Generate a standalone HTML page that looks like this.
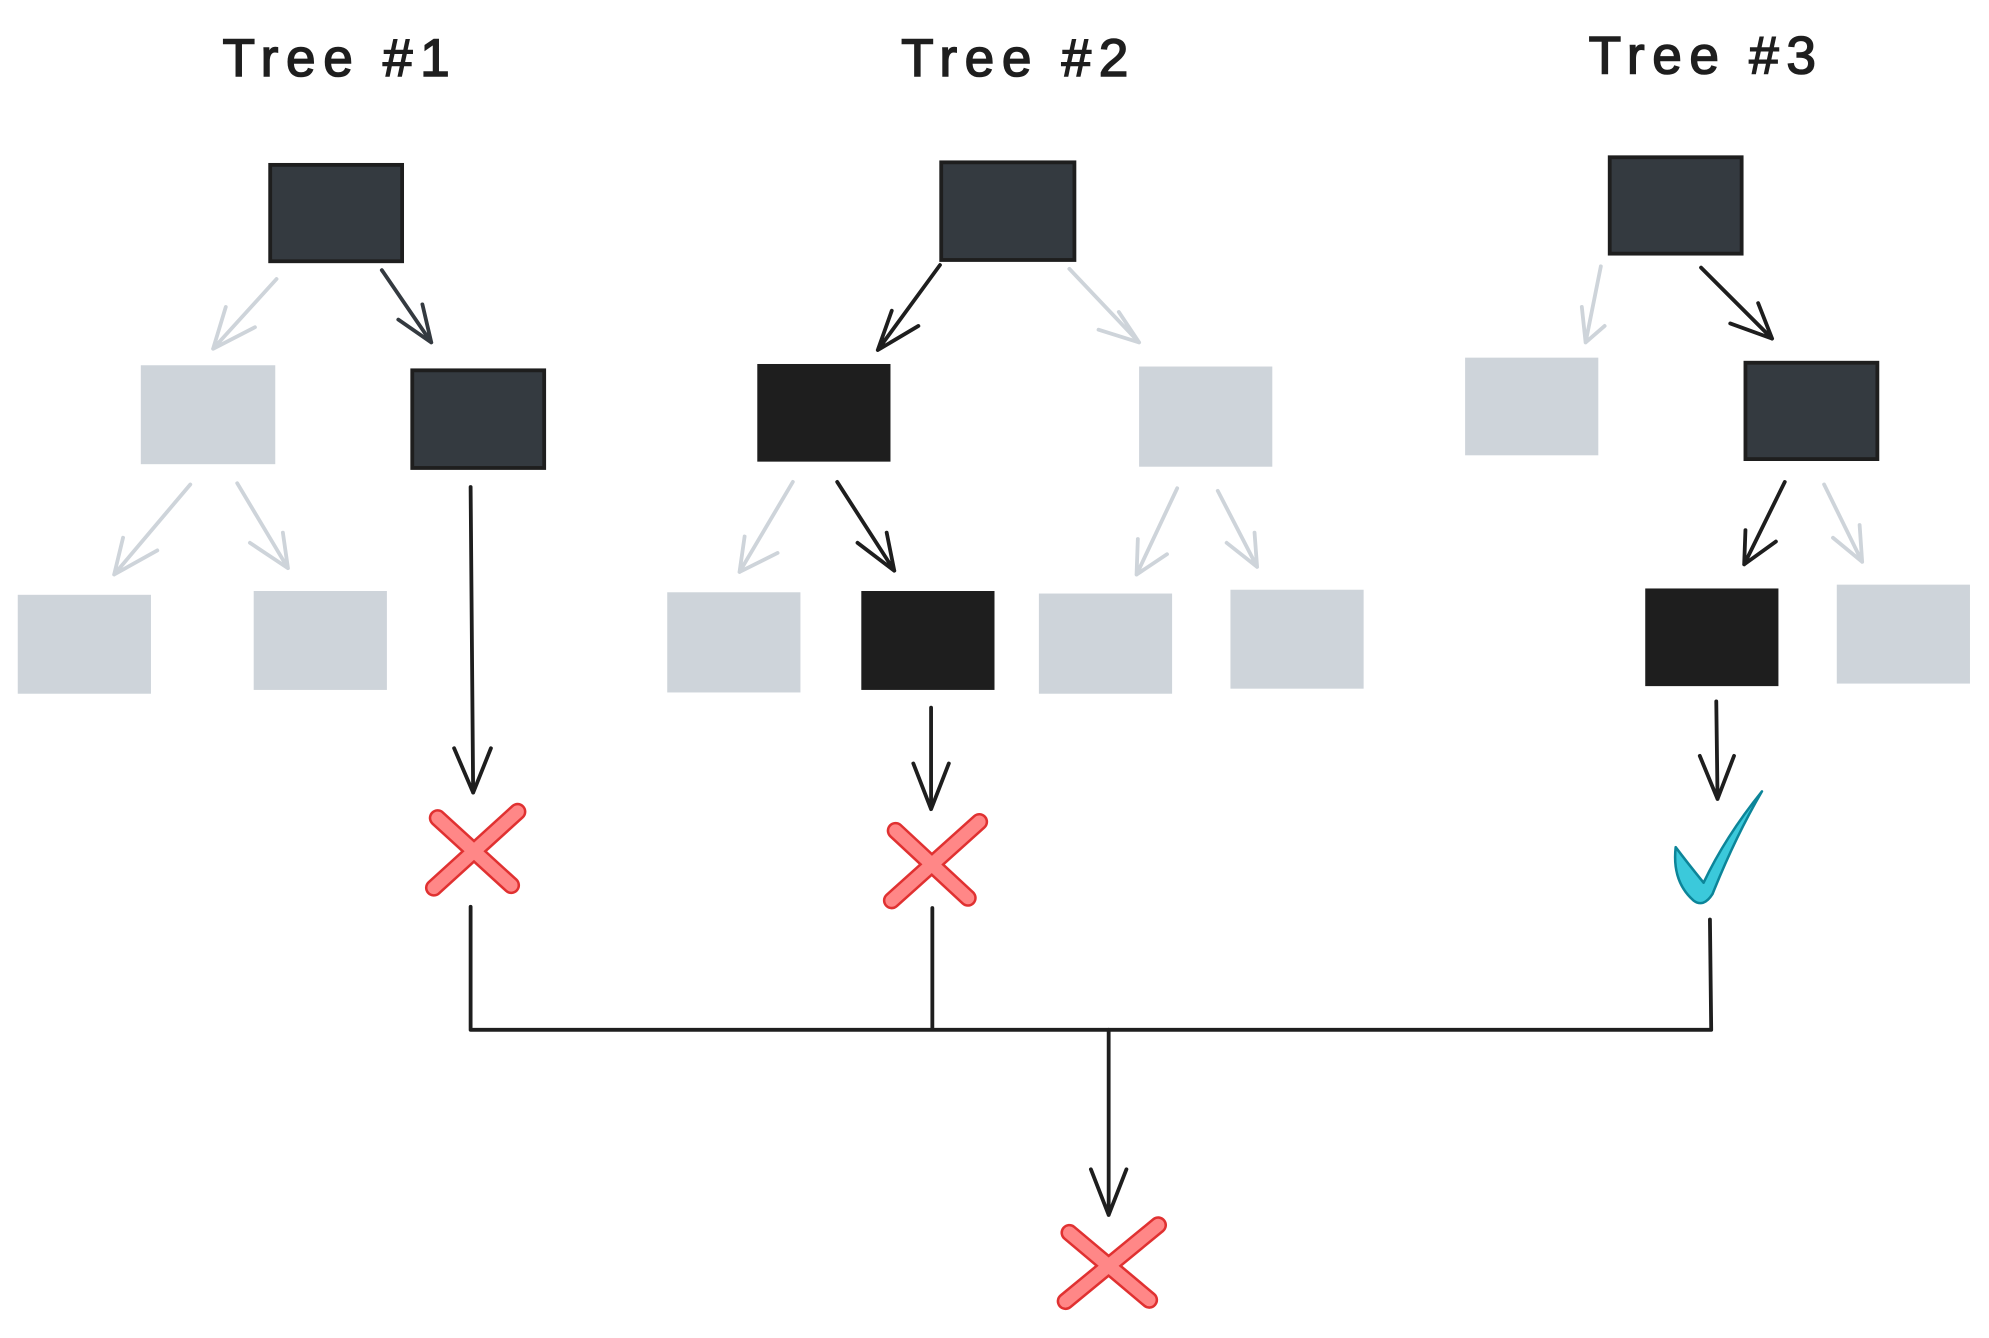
<!DOCTYPE html>
<html><head><meta charset="utf-8"><style>
html,body{margin:0;padding:0;background:#fff;}
svg{display:block;}
</style></head><body>
<svg width="1989" height="1338" viewBox="0 0 1568 1055" preserveAspectRatio="none" xmlns="http://www.w3.org/2000/svg">
<g font-family="'Comic Sans MS','Liberation Sans',sans-serif" font-size="42" fill="#1e1e1e" stroke="#1e1e1e" stroke-width="1.2" text-anchor="middle" letter-spacing="6">
<text x="268" y="60">Tree #1</text>
<text x="803" y="60">Tree #2</text>
<text x="1345" y="58">Tree #3</text>
</g>
<g fill="#ced4da">
<rect x="111" y="288" width="106" height="78"/>
<rect x="14" y="469" width="105" height="78"/>
<rect x="200" y="466" width="105" height="78"/>
<rect x="898" y="289" width="105" height="79"/>
<rect x="526" y="467" width="105" height="79"/>
<rect x="819" y="468" width="105" height="79"/>
<rect x="970" y="465" width="105" height="78"/>
<rect x="1155" y="282" width="105" height="77"/>
<rect x="1448" y="461" width="105" height="78"/>
</g>
<g fill="#343a40" stroke="#1e1e1e" stroke-width="3">
<rect x="213" y="130" width="104" height="76"/>
<rect x="325" y="292" width="104" height="77"/>
<rect x="742" y="128" width="105" height="77"/>
<rect x="1269" y="124" width="104" height="76"/>
<rect x="1376" y="286" width="104" height="76"/>
</g>
<g fill="#1e1e1e">
<rect x="597" y="287" width="105" height="77"/>
<rect x="679" y="466" width="105" height="78"/>
<rect x="1297" y="464" width="105" height="77"/>
</g>
<g fill="none" stroke-linecap="round" stroke-linejoin="round" stroke-width="3">
<g stroke="#ced4da">
<path d="M218 220 L168 275 M178 242 L168 275 L201 258"/>
<path d="M150 382 L90 453 M97 424 L90 453 L124 434"/>
<path d="M187 381 L227 448 M223 420 L227 448 L197 428"/>
<path d="M843 212 L898 270 M882 246 L898 270 L866 260"/>
<path d="M625 380 L583 451 M587 423 L583 451 L613 436"/>
<path d="M928 385 L896 453 M897 425 L896 453 L920 437"/>
<path d="M960 387 L991 447 M989 420 L991 447 L967 428"/>
<path d="M1262 210 L1250 270 M1247 242 L1250 270 L1265 257"/>
<path d="M1438 382 L1468 443 M1466 414 L1468 443 L1445 424"/>
</g>
<g stroke="#1e1e1e">
<path d="M301 213 L340 270 M333 240 L340 270 L314 252" stroke="#343a40"/>
<path d="M371 384 L373 625 M358 590 L373 625 L387 590"/>
<path d="M741 209 L692 276 M703 245 L692 276 L724 257"/>
<path d="M660 380 L705 450 M699 420 L705 450 L676 428"/>
<path d="M734 558 L734 638 M720 602 L734 638 L748 602"/>
<path d="M1341 211 L1397 267 M1386 239 L1397 267 L1364 255"/>
<path d="M1407 380 L1375 445 M1376 418 L1375 445 L1400 427"/>
<path d="M1353 553 L1354 630 M1340 596 L1354 630 L1367 596"/>
<path d="M371 715 L371 812 M735 716 L735 812 M1348 725 L1349 812 M371 812 L1349 812"/>
<path d="M874 812 L874 958 M860 922 L874 958 L888 922"/>
</g>
</g>
<g stroke-linecap="round" fill="none">
<g stroke="#e03131" stroke-width="14">
<path d="M345 645 L403 698 M408 640 L342 700"/>
<path d="M706 655 L763 708 M772 648 L703 710"/>
<path d="M843 972 L906 1025 M913 966 L840 1026"/>
</g>
<g stroke="#ff8787" stroke-width="10">
<path d="M345 645 L403 698 M408 640 L342 700"/>
<path d="M706 655 L763 708 M772 648 L703 710"/>
<path d="M843 972 L906 1025 M913 966 L840 1026"/>
</g>
</g>
<path d="M1389 624 Q1360 660 1343 696 Q1330 680 1321 668 Q1318 695 1335 710 Q1343 716 1350 705 Q1368 660 1389 624 Z" fill="#3bc9db" stroke="#0c8599" stroke-width="2" stroke-linejoin="round"/>
</svg>
</body></html>
